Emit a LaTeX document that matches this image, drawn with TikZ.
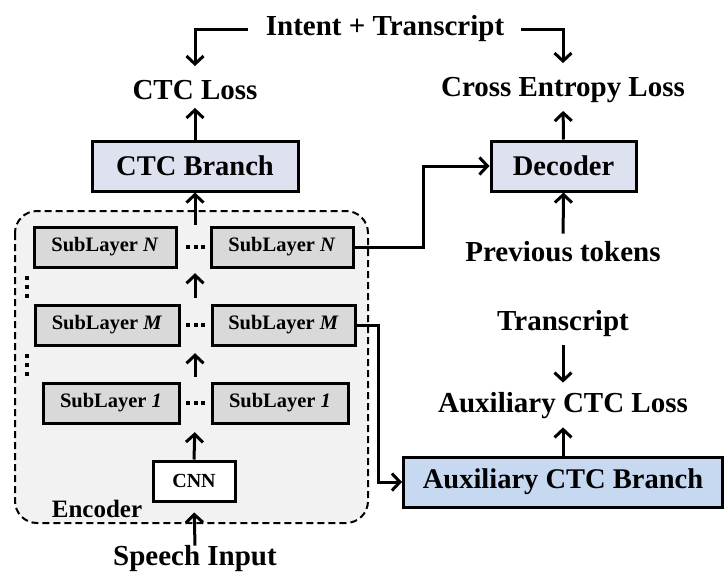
\documentclass[tikz,border=0pt]{standalone}
\usepackage{fontspec}
\setmainfont{Liberation Serif}
\usetikzlibrary{arrows.meta}
\definecolor{ctcfill}{HTML}{DEE1F0}
\definecolor{auxfill}{HTML}{C6D9F1}
\definecolor{subfill}{HTML}{D9D9D9}
\definecolor{encfill}{HTML}{F2F2F2}
\begin{document}
\begin{tikzpicture}[x=1pt,y=-1pt,
  arr/.style={line width=3pt,-{Straight Barb[length=8pt,width=17pt]}},
  lbl/.style={font=\bfseries\fontsize{29}{31}\selectfont, inner sep=0pt},
  bigbox/.style={draw, line width=3pt, minimum height=50pt, inner sep=0pt, font=\bfseries\fontsize{28.5}{30}\selectfont},
  subbox/.style={draw, line width=3pt, fill=subfill, minimum height=40pt, inner sep=0pt, font=\bfseries\fontsize{20.5}{22}\selectfont},
  dotsnode/.style={minimum width=20pt, minimum height=40pt, inner sep=0pt},
  vdots/.style={line width=4pt, dash pattern=on 4pt off 5pt}
]
\useasboundingbox (0,0) rectangle (725,584);

% encoder background
\draw[line width=2pt, dash pattern=on 7pt off 4pt, fill=encfill, rounded corners=22pt] (15,211) rectangle (368,523);
\node[font=\bfseries\fontsize{25}{27}\selectfont, inner sep=0pt] (enc) at (97,509) {Encoder};

% top texts
\node[lbl] (intent) at (385,29) {Intent + Transcript};
\node[lbl] (ctcloss) at (195,90) {CTC Loss};
\node[lbl] (celoss) at (563,90) {Cross Entropy Loss};
\node[lbl] (prev) at (563,252) {Previous tokens};
\node[lbl] (trans) at (563,324) {Transcript};
\node[lbl] (auxloss) at (563,406) {Auxiliary CTC Loss};
\node[lbl] (speech) at (195,559) {Speech Input};

% boxes
\node[bigbox, fill=ctcfill, minimum width=206pt] (ctc) at (195,166) {CTC Branch};
\node[bigbox, fill=ctcfill, minimum width=145pt] (dec) at (563.5,166) {Decoder};
\node[bigbox, fill=auxfill, minimum width=319pt] (aux) at (563,482) {Auxiliary CTC Branch};

\node[subbox, minimum width=142pt] (nl) at (105,247) {SubLayer \textit{N}};
\node[subbox, minimum width=142pt] (nr) at (282,247) {SubLayer \textit{N}};
\node[subbox, minimum width=144pt] (ml) at (107,325) {SubLayer \textit{M}};
\node[subbox, minimum width=143pt] (mr) at (283.5,325) {SubLayer \textit{M}};
\node[subbox, minimum width=136pt] (ol) at (111,403) {SubLayer \textit{1}};
\node[subbox, minimum width=136pt] (or) at (280,403) {SubLayer \textit{1}};
\node[draw, line width=3pt, fill=white, minimum width=82pt, minimum height=40pt, inner sep=0pt, font=\bfseries\fontsize{20}{22}\selectfont] (cnn) at (194,481) {CNN};

% horizontal dots
\node[dotsnode] (dn) at (195,247) {};
\node[dotsnode] (dm) at (195,325) {};
\node[dotsnode] (d1) at (195,403) {};
\foreach \n in {dn,dm,d1} {
  \draw[line width=4pt, dash pattern=on 4pt off 3.5pt] ([xshift=-9pt]\n.center) -- ([xshift=10pt]\n.center);
}
% vertical dots
\draw[vdots] (27,276) -- (27,300);
\draw[vdots] (27,354) -- (27,378);

% arrows in encoder column
\draw[arr, shorten >=10pt] (speech.north) -- (cnn.south);
\draw[arr, shorten >=9pt] (cnn.north) -- (d1.south);
\draw[arr, shorten <=6pt, shorten >=8pt] (d1.north) -- (dm.south);
\draw[arr, shorten <=7pt, shorten >=6pt] (dm.north) -- (dn.south);
\draw[arr, shorten <=2pt] (dn.north) -- (ctc.south);
\draw[arr, shorten >=8pt] (ctc.north) -- (ctcloss.south);

% intent arrows
\draw[arr, shorten >=14pt] ([xshift=-18pt]intent.west) -| (ctcloss.north);
\draw[arr, shorten >=14pt] ([xshift=17pt]intent.east) -| (celoss.north);

% decoder
\draw[arr, shorten >=8pt] (dec.north) -- (celoss.south);
\draw[arr, shorten <=8pt] (prev.north) -- (dec.south);

% aux
\draw[arr, shorten <=8pt, shorten >=10pt] (trans.south) -- (auxloss.north);
\draw[arr, shorten >=8pt] (aux.north) -- (auxloss.south);

% skip connectors
\coordinate (jn) at (423,247);
\coordinate (jm) at (378,325);
\draw[arr] (nr.east) -- (jn) |- (dec.west);
\draw[arr] (mr.east) -- (jm) |- (aux.west);
\end{tikzpicture}
\end{document}
